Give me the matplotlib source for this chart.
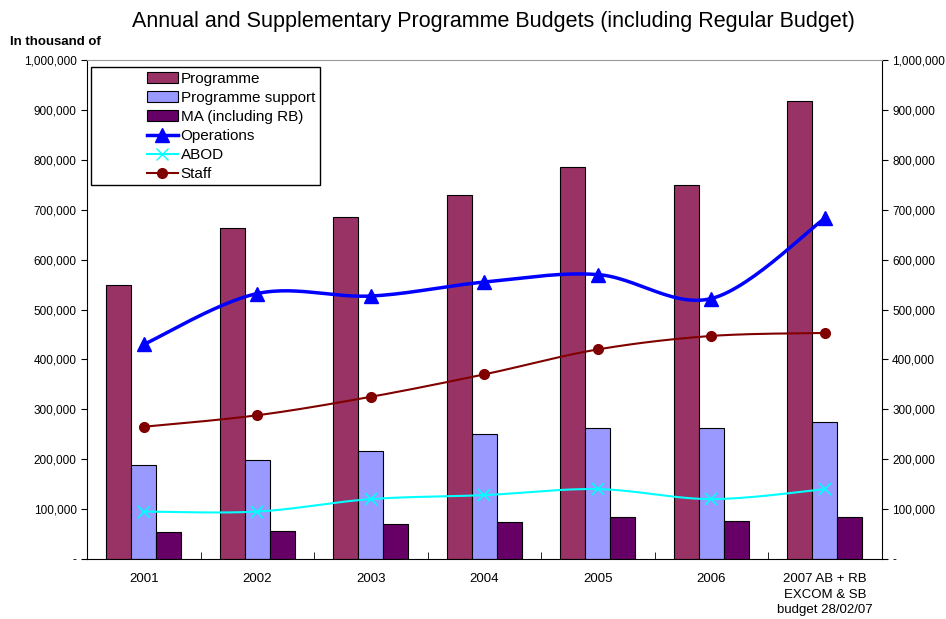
import matplotlib.pyplot as plt
import matplotlib.patches as mpatches
import numpy as np

plt.rcParams['font.family'] = ['Liberation Sans', 'DejaVu Sans']

years = ["2001", "2002", "2003", "2004", "2005", "2006", "2007 AB + RB\nEXCOM & SB\nbudget 28/02/07"]
programme = [550000, 663000, 686000, 729000, 785000, 750000, 918000]
prog_support = [188000, 198000, 217000, 250000, 262000, 262000, 275000]
ma = [55000, 57000, 70000, 75000, 85000, 77000, 85000]
operations = [430000, 532000, 527000, 555000, 570000, 522000, 683000]
abod = [95000, 95000, 120000, 128000, 140000, 120000, 140000]
staff = [265000, 288000, 325000, 370000, 420000, 447000, 453000]


def smooth(x, y, n=30):
    # excel style smoothed line (bezier through points)
    x = np.asarray(x, float)
    y = np.asarray(y, float)
    px, py = [], []
    for i in range(len(x) - 1):
        x0, y0 = (x[i - 1], y[i - 1]) if i > 0 else (x[i], y[i])
        x3, y3 = (x[i + 2], y[i + 2]) if i + 2 < len(x) else (x[i + 1], y[i + 1])
        c1x = x[i] + (x[i + 1] - x0) / 6
        c1y = y[i] + (y[i + 1] - y0) / 6
        c2x = x[i + 1] - (x3 - x[i]) / 6
        c2y = y[i + 1] - (y3 - y[i]) / 6
        t = np.linspace(0, 1, n)
        a, b, c, d = (1 - t) ** 3, 3 * (1 - t) ** 2 * t, 3 * (1 - t) * t ** 2, t ** 3
        px += list(a * x[i] + b * c1x + c * c2x + d * x[i + 1])
        py += list(a * y[i] + b * c1y + c * c2y + d * y[i + 1])
    return px, py


fig = plt.figure(figsize=(9.46, 6.19), dpi=100)
ax = fig.add_axes([0.092, 0.097, 0.840, 0.806])
ax2 = ax.twinx()
ax.set_zorder(ax2.get_zorder() + 1)
ax.patch.set_visible(False)

x = np.arange(len(years)) + 0.5
w = 0.22
b1 = ax.bar(x - w, programme, w, color="#993366", edgecolor="black", lw=0.8, label="Programme")
b2 = ax.bar(x, prog_support, w, color="#9999FF", edgecolor="black", lw=0.8, label="Programme support")
b3 = ax.bar(x + w, ma, w, color="#660066", edgecolor="black", lw=0.8, label="MA (including RB)")

sx, sy = smooth(x, operations)
ax.plot(sx, sy, color="#0000FF", lw=2.5)
ax.plot(x, operations, ls="none", marker="^", ms=10, color="#0000FF")
sx, sy = smooth(x, abod)
ax.plot(sx, sy, color="#00FFFF", lw=1.5)
ax.plot(x, abod, ls="none", marker="x", ms=8, mew=1.2, color="#00FFFF")
sx, sy = smooth(x, staff)
ax.plot(sx, sy, color="#800000", lw=1.5)
ax.plot(x, staff, ls="none", marker="o", ms=7, color="#800000")

l1, = ax.plot([], [], color="#0000FF", lw=2.5, marker="^", ms=10, label="Operations")
l2, = ax.plot([], [], color="#00FFFF", lw=1.5, marker="x", ms=8, label="ABOD")
l3, = ax.plot([], [], color="#800000", lw=1.5, marker="o", ms=7, label="Staff")

ax.set_xlim(0, 7)
ax.set_ylim(0, 1000000)
yt = np.arange(0, 1000001, 100000)
ylabels = ["-"] + [f"{v:,}" for v in yt[1:]]
ax.set_yticks(yt)
ax.set_yticklabels(ylabels, fontsize=8.5)
ax.set_xticks(x)
ax.set_xticklabels(years, fontsize=9.5, va="top", linespacing=1.42)
ax.set_xticks(np.arange(0, 8), minor=True)
ax.tick_params(axis="x", which="major", length=0, pad=10)
ax.tick_params(axis="x", which="minor", length=5, direction="in")
ax.tick_params(axis="y", length=4, direction="out")

ax2.set_ylim(0, 1000000)
ax2.set_yticks(yt)
ax2.set_yticklabels(ylabels, fontsize=8.5)
ax2.tick_params(axis="y", length=4, direction="out")

ax.spines["top"].set_color("#999999")
ax.spines["right"].set_visible(False)
ax2.spines["top"].set_visible(False)
ax2.spines["left"].set_visible(False)
ax2.spines["bottom"].set_visible(False)

# legend frame like excel, handles shifted right inside the box
ax.add_patch(mpatches.Rectangle((0.005, 0.749), 0.288, 0.237, transform=ax.transAxes,
                                facecolor="white", edgecolor="black", lw=1.0, zorder=4))
leg = ax.legend(handles=[b1, b2, b3, l1, l2, l3], loc="upper left", bbox_to_anchor=(0.0755, 0.976),
                fontsize=11, frameon=False, handlelength=2.0, handleheight=0.7,
                borderpad=0, labelspacing=0.33, handletextpad=0.2, borderaxespad=0)
leg.set_zorder(5)

fig.text(0.522, 0.965, "Annual and Supplementary Programme Budgets (including Regular Budget)",
         ha="center", va="center", fontsize=15.5)
fig.text(0.011, 0.932, "In thousand of", fontsize=9.5, fontweight="bold", va="center")

fig.savefig("out.png", dpi=100)
